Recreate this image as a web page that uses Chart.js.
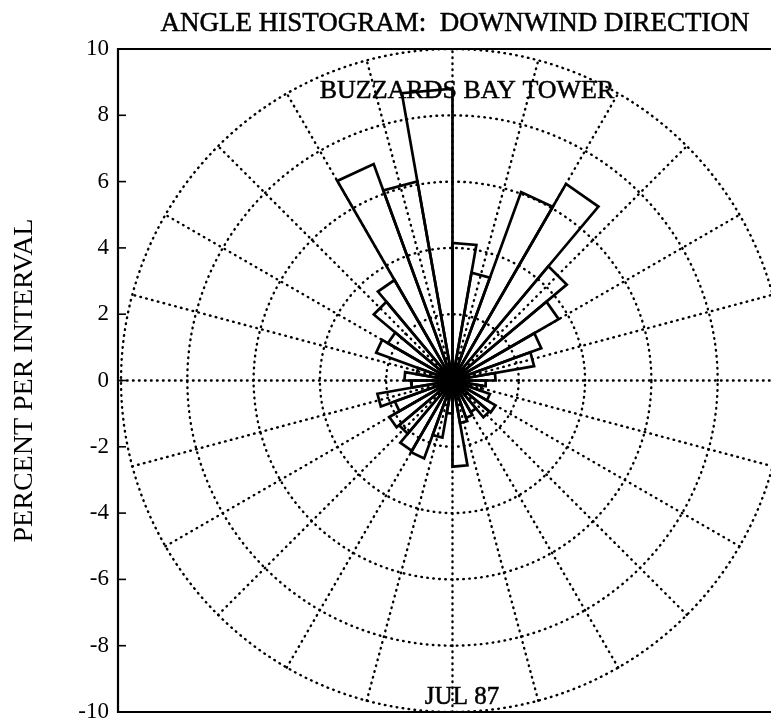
<!DOCTYPE html>
<html>
<head>
<meta charset="utf-8">
<title>Angle histogram</title>
<script src="https://cdn.jsdelivr.net/npm/chart.js@4.4.1/dist/chart.umd.min.js"></script>
<style>
  html, body { margin: 0; padding: 0; background: #fff; overflow: hidden; }
  #roseChart { display: block; }
</style>
</head>
<body>
<canvas id="roseChart" width="771" height="724"></canvas>
<script>
// 10 degree sectors, angle measured counter-clockwise from east
const sectorStart = [0, 10, 20, 30, 40, 50, 60, 70, 80, 90, 100, 110,
  120, 130, 140, 150, 160, 170, 180, 190, 200, 210, 220, 230,
  240, 250, 260, 270, 280, 290, 300, 310, 320, 330, 340, 350];
const sectorWidth = 10;

// percent of observations in each sector
const percentPerInterval = [1.3, 2.5, 2.85, 3.7, 4.5, 6.85, 6.05, 3.3, 4.15, 8.8, 6.1, 6.95,
  3.5, 3.1, 2.25, 2.45, 1.1, 1.45, 1.25, 2.3, 1.85, 2.2, 2.1, 2.45,
  2.5, 1.75, 1.0, 2.6, 1.3, 1.2, 1.1, 1.45, 1.5, 1.2, 0.9, 1.0];

// polar grid
const ringValues = [2, 4, 6, 8, 10];
const spokeAngles = [0, 15, 30, 45, 60, 75, 90, 105, 120, 135, 150, 165];

// y axis ticks
const yTicks = [-10, -8, -6, -4, -2, 0, 2, 4, 6, 8, 10];

const serif = "'Liberation Serif', 'Times New Roman', serif";
const rad = d => d * Math.PI / 180;

// plot box in pixels (the right edge runs off the page)
const plotTop = 49, plotBottom = 712, plotLeft = 118;
const xMin = -10.09;
const xMax = xMin + (771 - plotLeft) * 20 / (plotBottom - plotTop);

// one closed wedge per sector: origin -> arc start -> arc end -> origin
const wedgeSets = sectorStart.map((a, i) => {
  const r = percentPerInterval[i];
  const a1 = rad(a), a2 = rad(a + sectorWidth);
  return {
    data: [
      { x: 0, y: 0 },
      { x: r * Math.cos(a1), y: r * Math.sin(a1) },
      { x: r * Math.cos(a2), y: r * Math.sin(a2) },
      { x: 0, y: 0 }
    ],
    showLine: true,
    borderColor: '#000',
    borderWidth: 2.7,
    borderJoinStyle: 'miter',
    // the converging edges merge into a solid hub at the origin
    pointRadius: c => (c.dataIndex === 0 && c.datasetIndex === 0 ? 9 : 0),
    pointBackgroundColor: '#000',
    pointBorderWidth: 0,
    order: 0
  };
});

const dotted = {
  showLine: true,
  borderColor: '#000',
  borderWidth: 2.4,
  borderDash: [0.6, 5.4],
  borderCapStyle: 'round',
  pointRadius: 0,
  order: 1
};

const ringSets = ringValues.map(r => {
  const pts = [];
  for (let d = 0; d <= 360; d += 2) {
    pts.push({ x: r * Math.cos(rad(d)), y: r * Math.sin(rad(d)) });
  }
  return Object.assign({ data: pts }, dotted);
});

const outer = ringValues[ringValues.length - 1];
const spokeSets = spokeAngles.map(d => Object.assign({
  data: [
    { x: -outer * Math.cos(rad(d)), y: -outer * Math.sin(rad(d)) },
    { x: outer * Math.cos(rad(d)), y: outer * Math.sin(rad(d)) }
  ]
}, dotted));

// frame, inward tick marks and the text labels
const framePlugin = {
  id: 'frame',
  afterDatasetsDraw(chart) {
    const { ctx, chartArea: ca, scales } = chart;
    ctx.save();
    ctx.strokeStyle = '#000';
    ctx.lineWidth = 2.2;
    ctx.beginPath();
    ctx.moveTo(chart.width, ca.top);
    ctx.lineTo(ca.left, ca.top);
    ctx.lineTo(ca.left, ca.bottom);
    ctx.lineTo(chart.width, ca.bottom);
    ctx.stroke();
    ctx.lineWidth = 1.6;
    yTicks.forEach(v => {
      const y = scales.y.getPixelForValue(v);
      ctx.beginPath();
      ctx.moveTo(ca.left, y);
      ctx.lineTo(ca.left + 8, y);
      ctx.stroke();
    });

    ctx.fillStyle = '#000';
    ctx.strokeStyle = '#000';
    ctx.lineWidth = 0.5;
    ctx.textAlign = 'center';
    ctx.textBaseline = 'alphabetic';
    const label = (txt, size, x, y) => {
      ctx.font = size + 'px ' + serif;
      ctx.fillText(txt, x, y);
      ctx.strokeText(txt, x, y);
    };
    label('ANGLE HISTOGRAM:  DOWNWIND DIRECTION', 27, 455, 31);
    label('BUZZARDS BAY TOWER', 26, 467, 98);
    label('JUL 87', 25, 462, 704);
    ctx.restore();
  }
};

const ctx = document.getElementById('roseChart').getContext('2d');
const roseChart = new Chart(ctx, {
  type: 'scatter',
  data: { datasets: wedgeSets.concat(ringSets, spokeSets) },
  options: {
    responsive: false,
    animation: false,
    devicePixelRatio: 1,
    layout: {
      autoPadding: false,
      padding: { top: plotTop, bottom: 724 - plotBottom, left: 0, right: 0 }
    },
    elements: { line: { tension: 0 } },
    plugins: {
      legend: { display: false },
      tooltip: { enabled: false },
      title: { display: false }
    },
    scales: {
      x: {
        type: 'linear',
        min: xMin,
        max: xMax,
        display: false
      },
      y: {
        type: 'linear',
        min: -10,
        max: 10,
        afterBuildTicks: scale => {
          scale.ticks = yTicks.map(v => ({ value: v }));
        },
        afterFit: scale => {
          scale.width = plotLeft;
          scale.paddingTop = 0;
          scale.paddingBottom = 0;
        },
        ticks: {
          color: '#000',
          padding: 9,
          font: { family: serif, size: 23 }
        },
        grid: { display: false, drawTicks: false },
        border: { display: false },
        title: {
          display: true,
          text: 'PERCENT PER INTERVAL',
          color: '#000',
          font: { family: serif, size: 28 },
          padding: { top: 8, bottom: 0 }
        }
      }
    }
  },
  plugins: [framePlugin]
});
</script>
</body>
</html>
